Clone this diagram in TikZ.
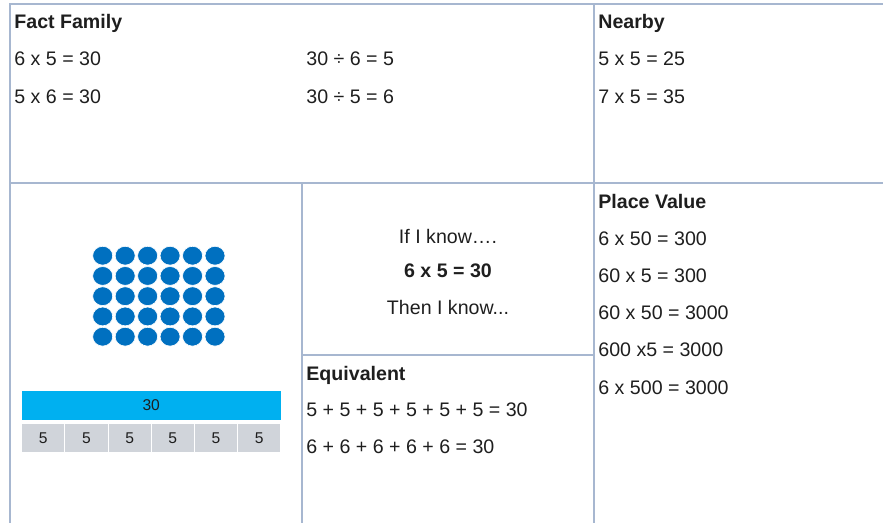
\documentclass[tikz,border=0pt]{standalone}
\usepackage{fontspec}
\setmainfont{Liberation Sans}
\usepackage{tikz}
\usetikzlibrary{positioning, shapes.geometric}
\definecolor{gridBlue}{HTML}{A7B7D0}
\definecolor{dotBlue}{HTML}{0070C0}
\definecolor{barBlue}{HTML}{00B0F0}
\definecolor{cellGray}{HTML}{D0D4DA}
\definecolor{inkGray}{HTML}{1E1E1E}

\begin{document}
\begin{tikzpicture}[
  x=0.5pt, y=-0.5pt,
  font=\fontsize{9.8}{12}\selectfont,
  every node/.style={inner sep=0pt, text=inkGray},
  gridline/.style={draw=gridBlue, line width=0.8pt},
  fact/.style={anchor=base west},
  head/.style={fact, font=\fontsize{9.8}{12}\selectfont\bfseries},
  middle/.style={anchor=base},
  counter/.style={ellipse, fill=dotBlue, draw=white, line width=0.3pt,
                  minimum width=10pt, minimum height=9.4pt},
  barbox/.style={rectangle, fill=barBlue, minimum width=129.5pt,
                 minimum height=14.5pt, font=\fontsize{7.8}{9}\selectfont},
  cellbox/.style={rectangle, fill=cellGray, draw=white, line width=0.5pt,
                  minimum width=21.6pt, minimum height=14.5pt,
                  font=\fontsize{7.8}{9}\selectfont},
]
\useasboundingbox (0,0) rectangle (883,523);

% grid
\draw[gridline] (10,523) -- (10,4) -- (883,4);
\draw[gridline] (10,183) -- (883,183);
\draw[gridline] (594,4) -- (594,523);
\draw[gridline] (302,183) -- (302,523);
\draw[gridline] (302,355) -- (594,355);

% fact family
\node[head] (ffhead) at (14,29) {Fact Family};
\node[fact] (ff1) at (14,66) {6 x 5 = 30};
\node[fact] (ff2) at (14,104) {5 x 6 = 30};
\node[fact] (ff3) at (306,66) {30 ÷ 6 = 5};
\node[fact] (ff4) at (306,104) {30 ÷ 5 = 6};

% nearby
\node[head] (nbhead) at (598,29) {Nearby};
\node[fact] (nb1) at (598,66) {5 x 5 = 25};
\node[fact] (nb2) at (598,104) {7 x 5 = 35};

% array of counters
\foreach \c in {0,...,5}
  \foreach \r in {0,...,4}
    \node[counter] (dot\c\r) at ({102.7+22.46*\c},{255.7+20.25*\r}) {};

% bar model
\node[barbox] (bar) at (151.2,405.5) {30};
\foreach \i in {1,...,6}
  \node[cellbox] (cell\i) at ({21.7+43.17*(\i-0.5)},437.8) {5};

% centre
\node[middle] (know) at (448,244) {If I know….};
\node[middle, font=\fontsize{9.8}{12}\selectfont\bfseries] (fact) at (448,278) {6 x 5 = 30};
\node[middle] (then) at (448,315) {Then I know...};

% equivalent
\node[head] (eqhead) at (306,380) {Equivalent};
\node[fact] (eq1) at (306,416) {5 + 5 + 5 + 5 + 5 + 5 = 30};
\node[fact] (eq2) at (306,453) {6 + 6 + 6 + 6 + 6 = 30};

% place value
\node[head] (pvhead) at (598,209) {Place Value};
\node[fact] (pv1) at (598,246) {6 x 50 = 300};
\node[fact] (pv2) at (598,283) {60 x 5 = 300};
\node[fact] (pv3) at (598,320) {60 x 50 = 3000};
\node[fact] (pv4) at (598,357) {600 x5 = 3000};
\node[fact] (pv5) at (598,394) {6 x 500 = 3000};

\end{tikzpicture}
\end{document}
